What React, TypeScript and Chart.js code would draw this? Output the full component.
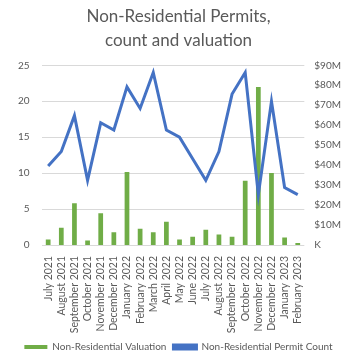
import React, { useEffect, useRef } from "react";
import { Chart, registerables } from "chart.js";

Chart.register(...registerables);

const months = [
  "July 2021", "August 2021", "September 2021", "October 2021", "November 2021",
  "December 2021", "January 2022", "February 2022", "March 2022", "April 2022",
  "May 2022", "June 2022", "July 2022", "August 2022", "September 2022",
  "October 2022", "November 2022", "December 2022", "January 2023", "February 2023",
];

// Valuation in $ millions (right axis)
const valuation = [2.8, 8.7, 20.9, 2.3, 15.9, 6.4, 36.6, 8.2, 6.4, 11.7, 2.8, 4.1, 7.7, 5.3, 4.1, 32.2, 79.1, 36.1, 3.8, 1.0];
// Permit count (left axis)
const permitCount = [11, 13, 18, 9, 17, 16, 22, 19, 24, 16, 15, 12, 9, 13, 21, 24, 7, 20, 8, 7];

const countTicks = [0, 5, 10, 15, 20, 25];
const valuationTicks = [0, 10, 20, 30, 40, 50, 60, 70, 80, 90];

const GREEN = "#70AD47";
const BLUE = "#4472C4";
const TEXT = "#595959";
const FONT = "Lato, 'Open Sans', sans-serif";

export default function App() {
  const ref = useRef<HTMLCanvasElement>(null);

  useEffect(() => {
    if (!ref.current) return;
    const chart = new Chart(ref.current, {
      type: "bar",
      data: {
        labels: months,
        datasets: [
          {
            type: "line",
            label: "Non-Residential Permit Count",
            data: permitCount,
            borderColor: BLUE,
            backgroundColor: BLUE,
            borderWidth: 3,
            pointRadius: 0,
            tension: 0,
            yAxisID: "y",
            order: 0,
          },
          {
            type: "bar",
            label: "Non-Residential Valuation",
            data: valuation,
            backgroundColor: GREEN,
            yAxisID: "y1",
            barPercentage: 0.36,
            categoryPercentage: 1,
            order: 1,
          },
        ],
      },
      options: {
        animation: false,
        responsive: false,
        maintainAspectRatio: false,
        layout: { padding: { left: 6, right: 6, top: 2, bottom: 0 } },
        plugins: {
          title: {
            display: true,
            text: ["Non-Residential Permits,", "count and valuation"],
            color: TEXT,
            font: { family: FONT, size: 17, weight: "normal", lineHeight: 1.45 },
            padding: { top: 2, bottom: 12 },
          },
          legend: {
            position: "bottom",
            reverse: true,
            labels: {
              color: TEXT,
              font: { family: FONT, size: 10 },
              boxWidth: 23,
              boxHeight: 4,
              padding: 7,
            },
          },
          tooltip: { enabled: false },
        },
        scales: {
          x: {
            grid: { display: false },
            border: { display: false },
            afterFit: (axis: any) => {
              axis.height = 90;
            },
            ticks: {
              color: TEXT,
              font: { family: FONT, size: 10.5 },
              minRotation: 90,
              maxRotation: 90,
              autoSkip: false,
              padding: 3,
            },
          },
          y: {
            position: "left",
            min: countTicks[0],
            max: countTicks[countTicks.length - 1],
            afterBuildTicks: (axis: any) => {
              axis.ticks = countTicks.map((v) => ({ value: v }));
            },
            grid: { color: "#D9D9D9", drawTicks: false },
            border: { display: false },
            ticks: {
              color: TEXT,
              font: { family: FONT, size: 10 },
              padding: 12,
            },
          },
          y1: {
            position: "right",
            min: valuationTicks[0],
            max: valuationTicks[valuationTicks.length - 1],
            afterBuildTicks: (axis: any) => {
              axis.ticks = valuationTicks.map((v) => ({ value: v }));
            },
            grid: { display: false, drawTicks: false },
            border: { display: false },
            ticks: {
              color: TEXT,
              font: { family: FONT, size: 10 },
              padding: 10,
              callback: (v: any) => (Number(v) === 0 ? "K" : "$" + v + "M"),
            },
          },
        },
      },
    });
    return () => chart.destroy();
  }, []);

  return (
    <div style={{ position: "fixed", left: 0, top: 0, width: 357, height: 362, background: "#fff" }}>
      <canvas ref={ref} width={357} height={362} style={{ width: 357, height: 362 }} />
    </div>
  );
}
